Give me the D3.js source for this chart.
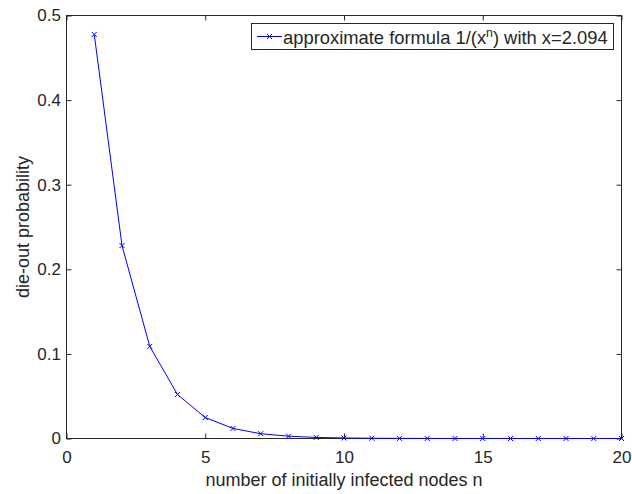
<!DOCTYPE html>
<html><head><meta charset="utf-8">
<script src="https://cdn.jsdelivr.net/npm/d3@7"></script>
<style>body{margin:0;background:#fff}svg{display:block}text{font-family:"Liberation Sans",Arial,Helvetica,sans-serif;fill:#262626}</style>
</head><body>
<svg id="c" width="632" height="494"></svg>
<script>
const nValues = [1,2,3,4,5,6,7,8,9,10,11,12,13,14,15,16,17,18,19,20];
const probValues = [0.4776,0.2281,0.1089,0.0520,0.0248,0.01186,0.00566,0.00270,0.00129,0.000618,0.000295,0.000141,0.000067,0.000032,0.0000153,0.0000073,0.0000035,0.0000017,0.0000008,0.0000004];
const xTicks = [0,5,10,15,20];
const yTicks = [0,0.1,0.2,0.3,0.4,0.5];
const legendLabel = "approximate formula 1/(x";
const legendSup = "n";
const legendRest = ") with x=2.094";
const xLabel = "number of initially infected nodes n";
const yLabel = "die-out probability";

const svg = d3.select("#c");
const L=66.5, R=621.5, T=15.5, B=438.5;
const x = d3.scaleLinear().domain([0,20]).range([L,R]);
const y = d3.scaleLinear().domain([0,0.5]).range([B,T]);
const axisColor = "#262626";
const fs = 17, lfs = 18;

svg.append("rect").attr("x",L).attr("y",T).attr("width",R-L).attr("height",B-T)
  .attr("fill","none").attr("stroke",axisColor).attr("stroke-width",1);

const tl = 5;
const gx = svg.append("g").attr("transform",`translate(0,${B})`)
  .call(d3.axisBottom(x).tickValues(xTicks).tickSizeInner(-tl).tickSizeOuter(0).tickPadding(12.5).tickFormat(d3.format("d")));
const gxt = svg.append("g").attr("transform",`translate(0,${T})`)
  .call(d3.axisTop(x).tickValues(xTicks).tickSizeInner(-tl).tickSizeOuter(0).tickFormat(""));
const gy = svg.append("g").attr("transform",`translate(${L},0)`)
  .call(d3.axisLeft(y).tickValues(yTicks).tickSizeInner(-tl).tickSizeOuter(0).tickPadding(5.5).tickFormat(d=>d===0?"0":d3.format(".1f")(d)));
const gyr = svg.append("g").attr("transform",`translate(${R},0)`)
  .call(d3.axisRight(y).tickValues(yTicks).tickSizeInner(-tl).tickSizeOuter(0).tickFormat(""));
[gx,gxt,gy,gyr].forEach(g=>{
  g.select(".domain").remove();
  g.selectAll("line").attr("stroke",axisColor);
  g.selectAll("text").attr("font-size",fs).attr("fill",axisColor).attr("font-family",null);
});

const line = d3.line().x((d,i)=>x(nValues[i])).y(d=>y(d));
svg.append("path").datum(probValues).attr("d",line).attr("fill","none").attr("stroke","#0000ff").attr("stroke-width",1);
const ms = 2.5;
svg.append("g").selectAll("path").data(probValues).join("path")
  .attr("d",(d,i)=>{const cx=x(nValues[i]), cy=y(d);return `M${cx-ms},${cy-ms}L${cx+ms},${cy+ms}M${cx-ms},${cy+ms}L${cx+ms},${cy-ms}`;})
  .attr("stroke","#0000ff").attr("stroke-width",1).attr("fill","none");

svg.append("text").attr("x",(L+R)/2).attr("y",486).attr("text-anchor","middle").attr("font-size",lfs).text(xLabel);
svg.append("text").attr("transform",`translate(29,${(T+B)/2}) rotate(-90)`).attr("text-anchor","middle").attr("font-size",lfs).text(yLabel);

const lg = svg.append("g");
lg.append("rect").attr("x",251.5).attr("y",23.5).attr("width",362).attr("height",26).attr("fill","#fff").attr("stroke",axisColor).attr("stroke-width",1);
lg.append("line").attr("x1",257).attr("x2",282).attr("y1",36.5).attr("y2",36.5).attr("stroke","#0000ff");
lg.append("path").attr("d",`M${269.5-ms},${36.5-ms}L${269.5+ms},${36.5+ms}M${269.5-ms},${36.5+ms}L${269.5+ms},${36.5-ms}`).attr("stroke","#0000ff");
let lfsz = 18;
const t = lg.append("text").attr("x",283).attr("y",43.5).attr("font-size",lfsz);
t.append("tspan").text(legendLabel);
const sup = t.append("tspan").attr("font-size",lfsz*0.67).attr("dy",-7).text(legendSup);
t.append("tspan").attr("dy",7).text(legendRest);
const w = t.node().getComputedTextLength();
const target = 325;
lfsz = lfsz * target / w;
t.attr("font-size",lfsz);
sup.attr("font-size",lfsz*0.67);
</script>
</body></html>
